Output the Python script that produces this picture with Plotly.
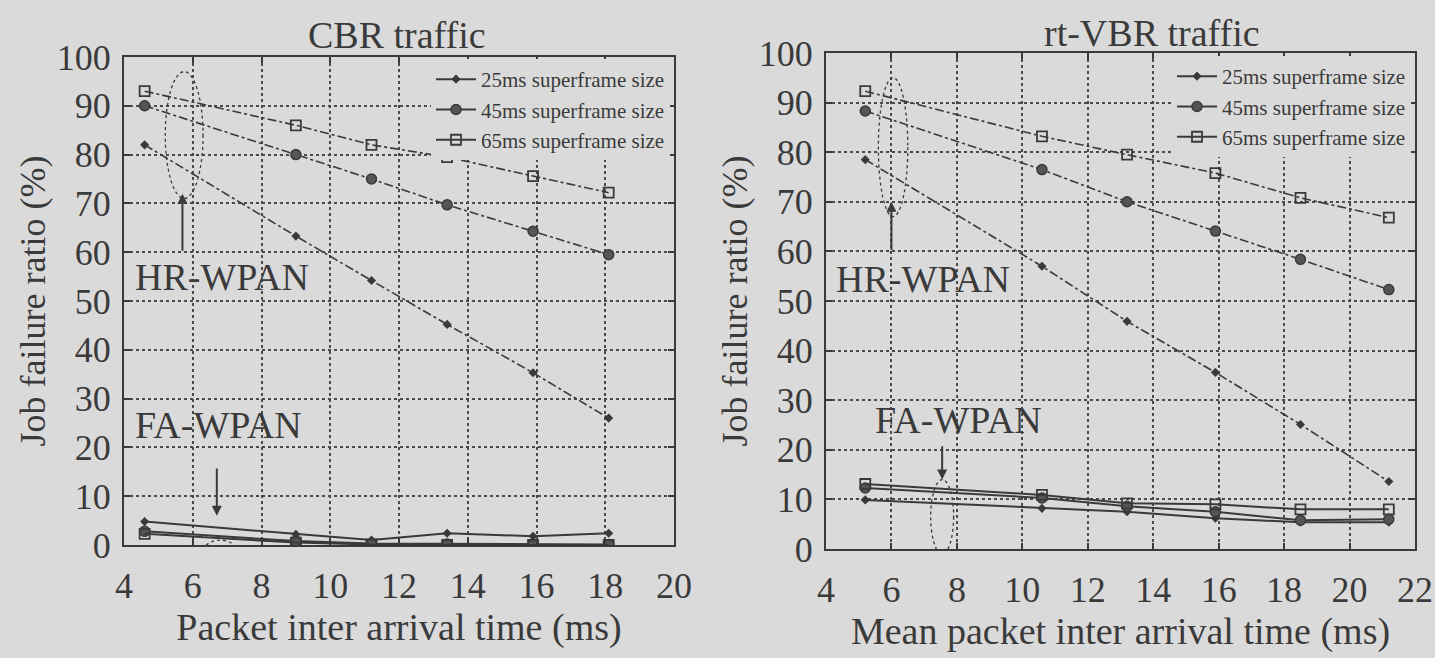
import plotly.graph_objects as go

# ---------------- data ----------------
cbr_x = [4.6, 9.0, 11.2, 13.4, 15.9, 18.1]
cbr_hr_25 = [82.0, 63.3, 54.2, 45.2, 35.3, 26.0]
cbr_hr_45 = [90.0, 80.0, 75.0, 69.7, 64.3, 59.5]
cbr_hr_65 = [93.0, 86.0, 82.0, 79.5, 75.6, 72.2]
cbr_fa_25 = [4.8, 2.2, 1.0, 2.4, 1.8, 2.4]
cbr_fa_45 = [2.8, 0.8, 0.3, 0.2, 0.1, 0.1]
cbr_fa_65 = [2.3, 0.5, 0.1, 0.0, 0.0, 0.0]

vbr_x = [5.2, 10.6, 13.2, 15.9, 18.5, 21.2]
vbr_hr_25 = [78.5, 57.0, 45.9, 35.6, 25.1, 13.6]
vbr_hr_45 = [88.3, 76.5, 70.0, 64.1, 58.4, 52.3]
vbr_hr_65 = [92.3, 83.2, 79.5, 75.8, 70.8, 66.8]
vbr_fa_25 = [9.9, 8.2, 7.5, 6.2, 5.4, 5.4]
vbr_fa_45 = [12.3, 10.3, 8.6, 7.5, 5.8, 6.0]
vbr_fa_65 = [13.1, 10.9, 9.2, 9.0, 8.0, 8.0]

series_names = ["25ms superframe size", "45ms superframe size", "65ms superframe size"]
titles = ["CBR traffic", "rt-VBR traffic"]
x_titles = ["Packet inter arrival time (ms)", "Mean packet inter arrival time (ms)"]
y_title = "Job failure ratio (%)"
left_xticks = [4, 6, 8, 10, 12, 14, 16, 18, 20]
right_xticks = [4, 6, 8, 10, 12, 14, 16, 18, 20, 22]
yticks = [0, 10, 20, 30, 40, 50, 60, 70, 80, 90, 100]

# ---------------- style ----------------
BG = "#dadada"
INK = "#3a3a3a"
FONT = "Liberation Serif"
markers = [
    dict(symbol="diamond", size=7, color=INK),
    dict(symbol="circle", size=10, color="#555555", line=dict(color=INK, width=1.5)),
    dict(symbol="square-open", size=10, color=INK, line=dict(color=INK, width=1.8)),
]

fig = go.Figure()

panels = [
    ("x", "y", "legend", cbr_x, [cbr_hr_25, cbr_hr_45, cbr_hr_65], [cbr_fa_25, cbr_fa_45, cbr_fa_65]),
    ("x2", "y2", "legend2", vbr_x, [vbr_hr_25, vbr_hr_45, vbr_hr_65], [vbr_fa_25, vbr_fa_45, vbr_fa_65]),
]
for xa, ya, lg, xs, hrs, fas in panels:
    for i in range(3):
        fig.add_trace(go.Scatter(
            x=xs, y=hrs[i], mode="lines+markers", name=series_names[i],
            line=dict(color=INK, width=1.6, dash="dashdot"), marker=markers[i],
            xaxis=xa, yaxis=ya, showlegend=False, legend=lg))
    for i in range(3):
        fig.add_trace(go.Scatter(
            x=xs, y=fas[i], mode="lines+markers", name=series_names[i],
            line=dict(color=INK, width=2), marker=markers[i],
            xaxis=xa, yaxis=ya, showlegend=True, legend=lg))

W, H = 1435, 658
axis_common = dict(
    showline=True, linecolor=INK, linewidth=2, mirror="ticks",
    ticks="inside", ticklen=6, tickcolor=INK, tickwidth=1.5,
    showgrid=True, gridcolor="#4a4a4a", griddash="dot", gridwidth=1.5,
    zeroline=False, tickfont=dict(family=FONT, size=36, color=INK),
    automargin=False,
)

fig.update_layout(
    width=W, height=H,
    paper_bgcolor=BG, plot_bgcolor=BG,
    margin=dict(l=0, r=0, t=0, b=0, autoexpand=False),
    font=dict(family=FONT, color=INK),
    xaxis=dict(domain=[124 / W, 674 / W], range=[4, 20], tickvals=left_xticks,
               title=dict(text=x_titles[0], standoff=6, font=dict(family=FONT, size=38, color=INK)),
               anchor="y", ticklabelstandoff=8, **axis_common),
    yaxis=dict(domain=[1 - 545 / H, 1 - 57 / H], range=[0, 100], tickvals=yticks,
               title=dict(text=y_title, standoff=0, font=dict(family=FONT, size=36, color=INK)),
               anchor="x", ticklabelstandoff=4, **axis_common),
    xaxis2=dict(domain=[826 / W, 1415 / W], range=[4, 22], tickvals=right_xticks,
                title=dict(text=x_titles[1], standoff=6, font=dict(family=FONT, size=38, color=INK)),
                anchor="y2", ticklabelstandoff=8, **axis_common),
    yaxis2=dict(domain=[1 - 549 / H, 1 - 53 / H], range=[0, 100], tickvals=yticks,
                title=dict(text=y_title, standoff=0, font=dict(family=FONT, size=36, color=INK)),
                anchor="x2", ticklabelstandoff=4, **axis_common),
    legend=dict(x=670 / W, y=1 - 59 / H, xanchor="right", yanchor="top",
                bgcolor=BG, borderwidth=0, tracegroupgap=0,
                font=dict(family=FONT, size=21, color=INK), itemwidth=40),
    legend2=dict(x=1411 / W, y=1 - 56 / H, xanchor="right", yanchor="top",
                 bgcolor=BG, borderwidth=0, tracegroupgap=0,
                 font=dict(family=FONT, size=21, color=INK), itemwidth=40),
)

# panel titles
fig.add_annotation(text=titles[0], x=397 / W, y=1 - 35 / H, xref="paper", yref="paper",
                   xanchor="center", yanchor="middle",
                   showarrow=False, font=dict(family=FONT, size=38, color=INK))
fig.add_annotation(text=titles[1], x=1152 / W, y=1 - 33 / H, xref="paper", yref="paper",
                   xanchor="center", yanchor="middle",
                   showarrow=False, font=dict(family=FONT, size=38, color=INK))

# in-plot labels
lbl = dict(showarrow=False, font=dict(family=FONT, size=38, color=INK), xanchor="left")
fig.add_annotation(text="HR-WPAN", x=4.25, y=55, xref="x", yref="y", **lbl)
fig.add_annotation(text="FA-WPAN", x=4.25, y=24.5, xref="x", yref="y", **lbl)
fig.add_annotation(text="HR-WPAN", x=4.25, y=54.5, xref="x2", yref="y2", **lbl)
fig.add_annotation(text="FA-WPAN", x=5.45, y=26, xref="x2", yref="y2", **lbl)

# arrows
arr = dict(text="", showarrow=True, arrowhead=2, arrowsize=1, arrowwidth=2, arrowcolor=INK)
fig.add_annotation(x=5.7, y=72, ax=5.7, ay=60, xref="x", yref="y", axref="x", ayref="y", **arr)
fig.add_annotation(x=6.7, y=6, ax=6.7, ay=16, xref="x", yref="y", axref="x", ayref="y", **arr)
fig.add_annotation(x=6.0, y=70, ax=6.0, ay=60, xref="x2", yref="y2", axref="x2", ayref="y2", **arr)
fig.add_annotation(x=7.55, y=14, ax=7.55, ay=21, xref="x2", yref="y2", axref="x2", ayref="y2", **arr)

# dashed ellipses
ell = dict(type="circle", line=dict(color=INK, width=1.3, dash="dot"))
fig.add_shape(x0=5.2, x1=6.3, y0=71, y1=97, xref="x", yref="y", **ell)
fig.add_shape(x0=6.3, x1=7.3, y0=-4, y1=1, xref="x", yref="y", **ell)
fig.add_shape(x0=5.6, x1=6.5, y0=67, y1=95, xref="x2", yref="y2", **ell)
fig.add_shape(x0=7.2, x1=7.9, y0=-1, y1=14, xref="x2", yref="y2", **ell)

fig.write_html("out.html", config={"displayModeBar": False})

# remove the default page margin so the figure sits at the window's top-left corner
with open("out.html", "r", encoding="utf-8") as f:
    html = f.read()
html = html.replace("<head>", "<head><style>html,body{margin:0;padding:0;background:%s;overflow:hidden;}</style>" % BG, 1)
with open("out.html", "w", encoding="utf-8") as f:
    f.write(html)
